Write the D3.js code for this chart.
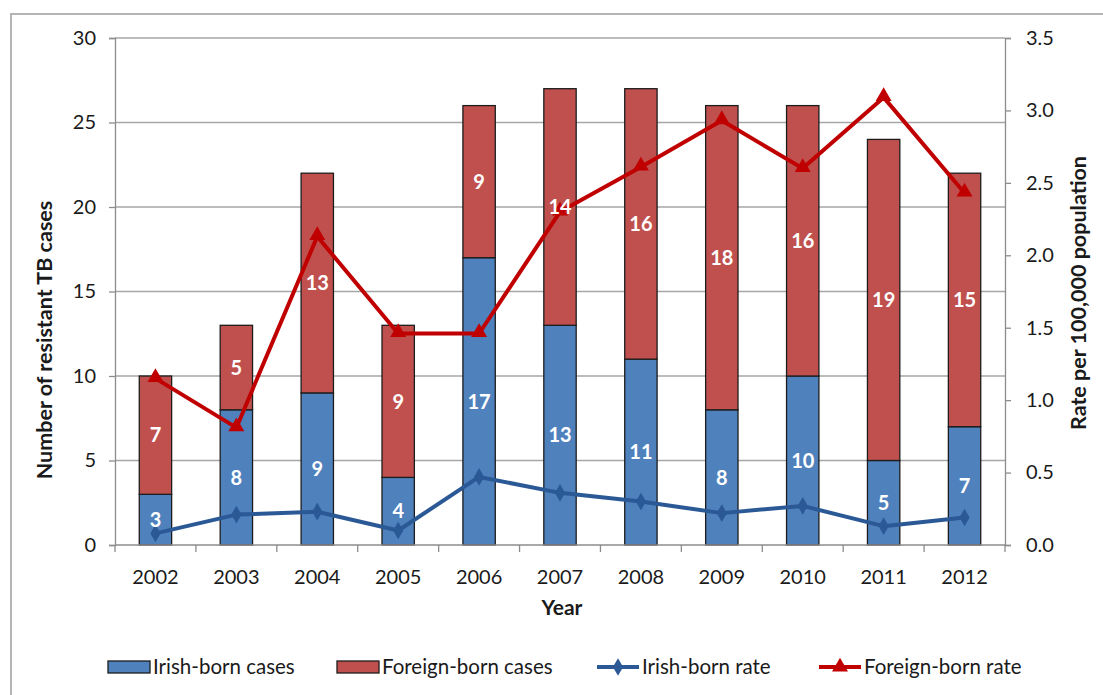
<!DOCTYPE html>
<html>
<head>
<meta charset="utf-8">
<script src="https://cdn.jsdelivr.net/npm/d3@7"></script>
<style>
  html, body { margin: 0; padding: 0; background: #fff; }
  svg { display: block; font-family: Lato, "Open Sans", sans-serif; }
</style>
</head>
<body>
<svg id="chart" width="1103" height="695"></svg>
<script>
// Resistant TB cases by birthplace, with rates per 100,000 population
const years = ["2002","2003","2004","2005","2006","2007","2008","2009","2010","2011","2012"];
const irishCases   = [3, 8, 9, 4, 17, 13, 11, 8, 10, 5, 7];
const foreignCases = [7, 5, 13, 9, 9, 14, 16, 18, 16, 19, 15];
const irishRate    = [0.08, 0.21, 0.23, 0.10, 0.47, 0.36, 0.30, 0.22, 0.27, 0.13, 0.19];
const foreignRate  = [1.15, 0.81, 2.13, 1.46, 1.46, 2.30, 2.61, 2.93, 2.60, 3.09, 2.43];
const casesTicks = [0, 5, 10, 15, 20, 25, 30];
const rateTicks  = [0, 0.5, 1.0, 1.5, 2.0, 2.5, 3.0, 3.5];

const colors = {
  irishBar: "#4F81BD",
  foreignBar: "#C0504D",
  irishLine: "#2A5995",
  foreignLine: "#C00000",
  grid: "#A6A6A6",
  axis: "#8C8C8C",
  text: "#1a1a1a"
};

const svg = d3.select("#chart");
const plot = { left: 115, right: 1005, top: 38, bottom: 545 };

// outer frame
svg.append("rect")
  .attr("x", 11).attr("y", 14)
  .attr("width", 1200).attr("height", 800)
  .attr("fill", "none").attr("stroke", "#B4B4B4").attr("stroke-width", 2);

const x = d3.scaleBand().domain(years).range([plot.left, plot.right]).paddingInner(0.6).paddingOuter(0.3);
const yCases = d3.scaleLinear().domain([0, 30]).range([plot.bottom, plot.top]);
const yRate = d3.scaleLinear().domain([0, 3.5]).range([plot.bottom, plot.top]);
const xc = d => x(d) + x.bandwidth() / 2;

// gridlines
svg.append("g")
  .selectAll("line").data(casesTicks.filter(t => t > 0)).join("line")
  .attr("x1", plot.left).attr("x2", plot.right)
  .attr("y1", d => yCases(d)).attr("y2", d => yCases(d))
  .attr("stroke", colors.grid).attr("stroke-width", 1.3);

// left axis
const leftAxis = svg.append("g").attr("transform", `translate(${plot.left},0)`)
  .call(d3.axisLeft(yCases).tickValues(casesTicks).tickSize(6).tickPadding(13).tickFormat(d3.format("d")));
// right axis
const rightAxis = svg.append("g").attr("transform", `translate(${plot.right},0)`)
  .call(d3.axisRight(yRate).tickValues(rateTicks).tickSize(6).tickPadding(15).tickFormat(d3.format(".1f")));
[leftAxis, rightAxis].forEach(g => {
  g.select(".domain").attr("stroke", colors.axis).attr("stroke-width", 1.3);
  g.selectAll(".tick line").attr("stroke", colors.axis).attr("stroke-width", 1.3);
  g.selectAll(".tick text").attr("font-size", 20).attr("fill", colors.text).attr("font-family", "Lato, sans-serif");
});

// bars
const stacked = years.map((y, i) => ({ year: y, irish: irishCases[i], foreign: foreignCases[i] }));
const barG = svg.append("g");
barG.selectAll("rect.irish").data(stacked).join("rect")
  .attr("class", "irish")
  .attr("x", d => x(d.year)).attr("width", x.bandwidth())
  .attr("y", d => yCases(d.irish)).attr("height", d => yCases(0) - yCases(d.irish))
  .attr("fill", colors.irishBar).attr("stroke", "#1c1c1c").attr("stroke-width", 1.3);
barG.selectAll("rect.foreign").data(stacked).join("rect")
  .attr("class", "foreign")
  .attr("x", d => x(d.year)).attr("width", x.bandwidth())
  .attr("y", d => yCases(d.irish + d.foreign)).attr("height", d => yCases(d.irish) - yCases(d.irish + d.foreign))
  .attr("fill", colors.foreignBar).attr("stroke", "#1c1c1c").attr("stroke-width", 1.3);

// x axis line and category ticks
svg.append("line")
  .attr("x1", plot.left).attr("x2", plot.right)
  .attr("y1", plot.bottom).attr("y2", plot.bottom)
  .attr("stroke", colors.axis).attr("stroke-width", 1.3);
const boundaries = d3.range(years.length + 1).map(i => plot.left + (plot.right - plot.left) * i / years.length);
svg.append("g").selectAll("line").data(boundaries).join("line")
  .attr("x1", d => d).attr("x2", d => d)
  .attr("y1", plot.bottom).attr("y2", plot.bottom + 7)
  .attr("stroke", colors.axis).attr("stroke-width", 1.3);
svg.append("g").selectAll("text").data(years).join("text")
  .attr("x", d => xc(d)).attr("y", plot.bottom + 39)
  .attr("text-anchor", "middle").attr("font-size", 20).attr("fill", colors.text)
  .text(d => d);

// rate lines
const irishPts = years.map((y, i) => [xc(y), yRate(irishRate[i])]);
const foreignPts = years.map((y, i) => [xc(y), yRate(foreignRate[i])]);
const line = d3.line();
svg.append("path").attr("d", line(irishPts))
  .attr("fill", "none").attr("stroke", colors.irishLine).attr("stroke-width", 4).attr("stroke-linejoin", "round");
svg.append("path").attr("d", line(foreignPts))
  .attr("fill", "none").attr("stroke", colors.foreignLine).attr("stroke-width", 4).attr("stroke-linejoin", "round");

const diamond = d3.symbol().type(d3.symbolDiamond).size(90);
const triangle = d3.symbol().type(d3.symbolTriangle).size(110);
svg.append("g").selectAll("path").data(irishPts).join("path")
  .attr("transform", d => `translate(${d[0]},${d[1]})`).attr("d", diamond).attr("fill", colors.irishLine);
svg.append("g").selectAll("path").data(foreignPts).join("path")
  .attr("transform", d => `translate(${d[0]},${d[1] - 1})`).attr("d", triangle).attr("fill", colors.foreignLine);

// value labels in bar segments
const labelG = svg.append("g").attr("font-size", 20).attr("font-weight", "bold").attr("fill", "#fff").attr("text-anchor", "middle");
labelG.selectAll("text.irish").data(stacked).join("text")
  .attr("x", d => xc(d.year)).attr("y", d => yCases(d.irish / 2)).attr("dy", "0.36em")
  .text(d => d.irish);
labelG.selectAll("text.foreign").data(stacked).join("text")
  .attr("x", d => xc(d.year)).attr("y", d => yCases(d.irish + d.foreign / 2)).attr("dy", "0.36em")
  .text(d => d.foreign);

// axis titles
svg.append("text")
  .attr("transform", `translate(52,340) rotate(-90)`)
  .attr("text-anchor", "middle").attr("font-size", 21.5).attr("font-weight", "bold").attr("fill", colors.text)
  .text("Number of resistant TB cases");
svg.append("text")
  .attr("transform", `translate(1086,293) rotate(-90)`)
  .attr("text-anchor", "middle").attr("font-size", 21.5).attr("font-weight", "bold").attr("fill", colors.text)
  .text("Rate per 100,000 population");
svg.append("text")
  .attr("x", (plot.left + plot.right) / 2 + 2).attr("y", 615)
  .attr("text-anchor", "middle").attr("font-size", 21).attr("font-weight", "bold").attr("fill", colors.text)
  .text("Year");

// legend
const legendItems = [
  { label: "Irish-born cases", kind: "bar", color: colors.irishBar, x: 108 },
  { label: "Foreign-born cases", kind: "bar", color: colors.foreignBar, x: 337 },
  { label: "Irish-born rate", kind: "line", color: colors.irishLine, x: 597, marker: diamond },
  { label: "Foreign-born rate", kind: "line", color: colors.foreignLine, x: 819, marker: triangle }
];
const ly = 667;
const lg = svg.append("g");
legendItems.forEach(it => {
  const g = lg.append("g");
  if (it.kind === "bar") {
    g.append("rect").attr("x", it.x).attr("y", ly - 6).attr("width", 42).attr("height", 12)
      .attr("fill", it.color).attr("stroke", "#1c1c1c").attr("stroke-width", 1.3);
  } else {
    g.append("line").attr("x1", it.x).attr("x2", it.x + 42).attr("y1", ly).attr("y2", ly)
      .attr("stroke", it.color).attr("stroke-width", 4);
    g.append("path").attr("transform", `translate(${it.x + 21},${ly})`).attr("d", it.marker).attr("fill", it.color);
  }
  g.append("text").attr("x", it.x + 45).attr("y", ly).attr("dy", "0.35em")
    .attr("font-size", 20.5).attr("fill", colors.text).text(it.label);
});
</script>
</body>
</html>
